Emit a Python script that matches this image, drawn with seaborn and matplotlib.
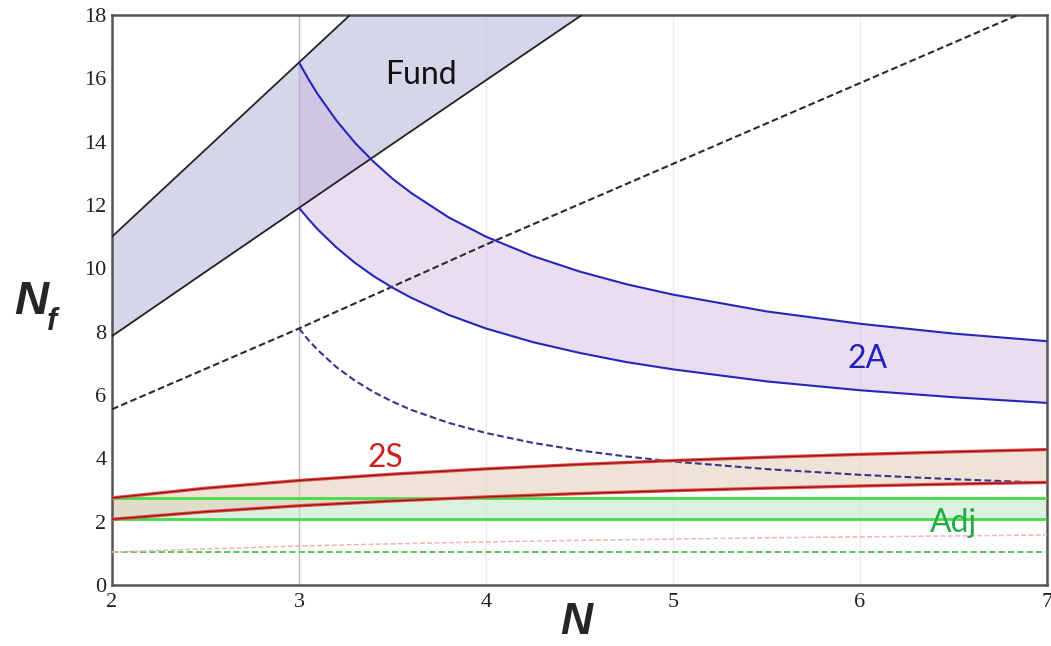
import matplotlib
matplotlib.use("Agg")
import matplotlib.pyplot as plt
import seaborn as sns
import pandas as pd
from matplotlib.ticker import MultipleLocator

# ---- data: conformal-window bounds for SU(N) with Nf flavours ----
# fundamental representation
n_fund = [2, 2.5, 3, 3.5, 4, 4.5, 5]
fund_upper = [11.0, 13.75, 16.5, 19.25, 22.0, 24.75, 27.5]
fund_lower = [7.86, 9.89, 11.91, 13.93, 15.94, 17.95, 19.95]
n_fund_dash = [2, 3, 4, 5, 6, 7]
fund_dash = [5.55, 8.1, 10.75, 13.3, 15.85, 18.4]

# two-index antisymmetric
n_2a = [3, 3.05, 3.1, 3.2, 3.3, 3.4, 3.5, 3.6, 3.8, 4, 4.25, 4.5, 4.75, 5, 5.5, 6, 6.5, 7]
a2_upper = [16.5, 15.98, 15.5, 14.67, 13.96, 13.36, 12.83, 12.38, 11.61, 11.0,
            10.39, 9.9, 9.5, 9.17, 8.64, 8.25, 7.94, 7.7]
a2_lower = [11.91, 11.56, 11.23, 10.66, 10.17, 9.75, 9.39, 9.07, 8.53, 8.10,
            7.67, 7.33, 7.04, 6.81, 6.43, 6.15, 5.93, 5.75]
a2_dash = [8.1, 7.74, 7.42, 6.88, 6.45, 6.09, 5.79, 5.53, 5.12, 4.80,
           4.49, 4.25, 4.06, 3.90, 3.66, 3.48, 3.34, 3.23]

# two-index symmetric
n_2s = [2, 2.5, 3, 3.5, 4, 4.5, 5, 5.5, 6, 6.5, 7]
s2_upper = [2.75, 3.056, 3.3, 3.5, 3.667, 3.808, 3.929, 4.033, 4.125, 4.206, 4.278]
s2_lower = [2.075, 2.313, 2.502, 2.654, 2.781, 2.888, 2.979, 3.058, 3.127, 3.188, 3.24]
s2_dash = [1.04, 1.14, 1.23, 1.30, 1.36, 1.41, 1.45, 1.49, 1.52, 1.55, 1.58]

# adjoint
n_adj = [2, 7]
adj_upper = [2.75, 2.75]
adj_lower = [2.075, 2.075]
adj_dash = [1.04, 1.04]

x_ticks = [2, 3, 4, 5, 6, 7]
y_ticks = [0, 2, 4, 6, 8, 10, 12, 14, 16, 18]

sns.set_style("white")
plt.rcParams["font.family"] = ["Liberation Serif", "DejaVu Serif"]

fig = plt.figure(figsize=(10.51, 6.46), dpi=100)
ax = fig.add_axes([112 / 1051, 1 - 585 / 646, (1047 - 112) / 1051, (585 - 15) / 646])

# vertical guide lines
for xv in [4, 5, 6]:
    ax.axvline(xv, color="#ececec", lw=1.0, zorder=0)
ax.axvline(3, color="#b8b8c0", lw=1.0, zorder=0)

# shaded windows
ax.fill_between(n_adj, adj_lower, adj_upper, color="#bfe6c6", alpha=0.55, lw=0, zorder=1)
ax.fill_between(n_2s, s2_lower, s2_upper, color="#e2cdb8", alpha=0.55, lw=0, zorder=1)
ax.fill_between(n_fund, fund_lower, fund_upper, color="#b2b2d8", alpha=0.52, lw=0, zorder=1)
ax.fill_between(n_2a, a2_lower, a2_upper, color="#cbaedc", alpha=0.42, lw=0, zorder=1)


def line(x, y, **kw):
    df = pd.DataFrame({"N": x, "Nf": y})
    sns.lineplot(data=df, x="N", y="Nf", ax=ax, sort=True, **kw)


dash = (3.2, 1.6)

# dashed bounds
line(n_adj, adj_dash, color="#55cc55", lw=1.4, linestyle=(0, dash), zorder=3)
line(n_2s, s2_dash, color="#f2b4b4", lw=1.1, linestyle=(0, dash), zorder=3)
line(n_fund_dash, fund_dash, color="#2a2a2a", lw=1.5, linestyle=(0, dash), zorder=3)
line(n_2a, a2_dash, color="#35358a", lw=1.5, linestyle=(0, dash), zorder=3)

# adjoint
line(n_adj, adj_upper, color="#44dd44", lw=2.0, zorder=4)
line(n_adj, adj_lower, color="#44dd44", lw=2.0, zorder=4)

# two-index symmetric
for yy in (s2_upper, s2_lower):
    line(n_2s, yy, color="#ee4a4a", lw=2.4, zorder=5)
    line(n_2s, yy, color="#8a1818", lw=0.9, zorder=5)

# fundamental
line(n_fund, fund_upper, color="#222222", lw=1.3, zorder=5)
line(n_fund, fund_lower, color="#222222", lw=1.3, zorder=5)

# two-index antisymmetric
line(n_2a, a2_upper, color="#2626b8", lw=1.5, zorder=5)
line(n_2a, a2_lower, color="#2626b8", lw=1.5, zorder=5)

# labels of the bands
lab_font = ["Lato", "DejaVu Sans"]
ax.text(3.65, 16.1, "Fund", color="#111111", fontsize=23, family=lab_font, ha="center", va="center", zorder=6)
ax.text(6.04, 7.15, "2A", color="#2222bb", fontsize=23, family=lab_font, ha="center", va="center", zorder=6)
ax.text(3.46, 4.0, "2S", color="#cc2222", fontsize=23, family=lab_font, ha="center", va="center", zorder=6)
ax.text(6.5, 1.95, "Adj", color="#22aa44", fontsize=23, family=lab_font, ha="center", va="center", zorder=6)

ax.set_xlim(2, 7)
ax.set_ylim(0, 18)
ax.set_xticks(x_ticks)
ax.set_yticks(y_ticks)
ax.xaxis.set_minor_locator(MultipleLocator(0.2))
ax.tick_params(axis="both", which="major", direction="in", length=5, width=1.2,
               color="#444444", labelsize=16, labelcolor="#222222", pad=4)
ax.tick_params(axis="x", which="minor", direction="in", length=3, width=1.0, color="#444444")
ax.tick_params(axis="x", which="major", pad=6)
for sp in ax.spines.values():
    sp.set_color("#555555")
    sp.set_linewidth(1.8)
ax.set_xlabel("")
ax.set_ylabel("")

# axis titles
title_font = ["Liberation Sans", "DejaVu Sans"]
fig.text(31 / 1051, 1 - 302 / 646, "N", fontsize=34, fontweight="bold", fontstyle="italic",
         family=title_font, ha="center", va="center")
fig.text(52 / 1051, 1 - 322 / 646, "f", fontsize=22, fontweight="bold", fontstyle="italic",
         family=title_font, ha="center", va="center")
fig.text(576 / 1051, 1 - 622 / 646, "N", fontsize=32, fontweight="bold", fontstyle="italic",
         family=title_font, ha="center", va="center")

fig.savefig("out.png", dpi=100, facecolor="white")
